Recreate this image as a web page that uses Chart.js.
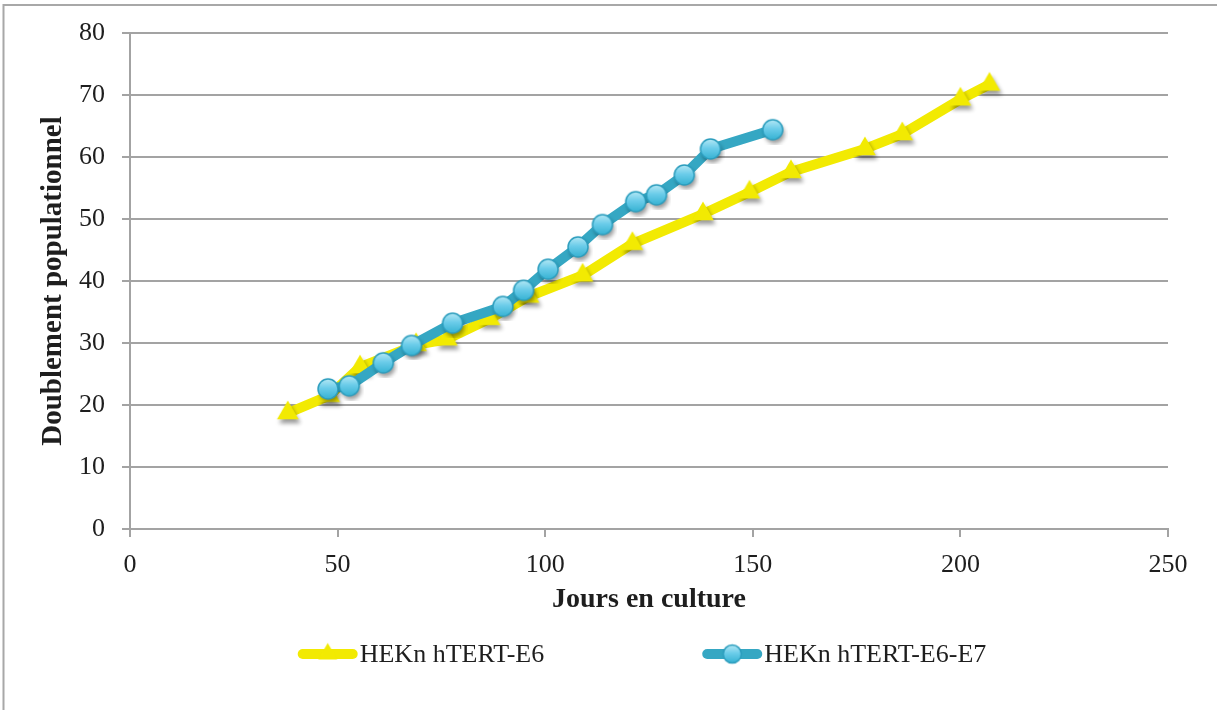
<!DOCTYPE html>
<html>
<head>
<meta charset="utf-8">
<title>Doublement populationnel</title>
<script src="https://cdn.jsdelivr.net/npm/chart.js@4.4.1/dist/chart.umd.min.js"></script>
<style>
  html, body { margin: 0; padding: 0; background: #ffffff; }
  #wrap { position: relative; width: 1217px; height: 710px; }
</style>
</head>
<body>
<div id="wrap"><canvas id="chart" width="1217" height="710"></canvas></div>
<script>
// Series names
const seriesNames = ['HEKn hTERT-E6', 'HEKn hTERT-E6-E7'];

// HEKn hTERT-E6: days in culture / population doublings
const e6Days = [38, 48, 55.4, 68.9, 76.3, 86.6, 96, 109, 121, 138, 149.2, 159.2, 177, 186, 200, 207];
const e6Doublings = [18.7, 21.5, 26.1, 29.7, 30.6, 33.9, 37.5, 40.9, 46, 50.8, 54.3, 57.6, 61.3, 63.7, 69.3, 71.7];

// HEKn hTERT-E6-E7: days in culture / population doublings
const e6e7Days = [47.7, 52.8, 61, 67.8, 77.7, 89.8, 94.8, 100.7, 107.9, 113.8, 121.8, 126.8, 133.5, 139.8, 154.8];
const e6e7Doublings = [22.6, 23.1, 26.8, 29.6, 33.2, 35.9, 38.5, 41.9, 45.5, 49.1, 52.8, 53.9, 57.1, 61.3, 64.4];

// Axis tick labels
const xTickValues = [0, 50, 100, 150, 200, 250];
const yTickValues = [0, 10, 20, 30, 40, 50, 60, 70, 80];

const YELLOW = '#f2ea02';
const TEAL = '#35a7c3';
const GRID = '#a3a3a3';
const INK = '#1e1e1e';
const SERIF = '"Liberation Serif", "DejaVu Serif", serif';

// Marker images: yellow triangle and glossy teal bead, optionally with a soft drop shadow
function triangleMarker(r, shadow) {
  const s = Math.ceil(r * 3);
  const c = document.createElement('canvas');
  c.width = c.height = s;
  const g = c.getContext('2d');
  const cx = s / 2, cy = s / 2;
  if (shadow) {
    g.shadowColor = 'rgba(0,0,0,0.4)';
    g.shadowBlur = 4;
    g.shadowOffsetX = 2;
    g.shadowOffsetY = 4;
  }
  g.beginPath();
  g.moveTo(cx, cy - r);
  g.lineTo(cx + r * Math.sin(2 * Math.PI / 3), cy + r / 2);
  g.lineTo(cx - r * Math.sin(2 * Math.PI / 3), cy + r / 2);
  g.closePath();
  g.fillStyle = YELLOW;
  g.fill();
  return c;
}

function beadMarker(r, shadow) {
  const s = Math.ceil(r * 3);
  const c = document.createElement('canvas');
  c.width = c.height = s;
  const g = c.getContext('2d');
  const cx = s / 2, cy = s / 2;
  if (shadow) {
    g.save();
    g.shadowColor = 'rgba(0,0,0,0.4)';
    g.shadowBlur = 4;
    g.shadowOffsetX = 2;
    g.shadowOffsetY = 4;
    g.beginPath();
    g.arc(cx, cy, r, 0, Math.PI * 2);
    g.fillStyle = '#3ab3d2';
    g.fill();
    g.restore();
  }
  const grad = g.createLinearGradient(0, cy - r, 0, cy + r);
  grad.addColorStop(0, '#b4e8f5');
  grad.addColorStop(0.45, '#6ccdea');
  grad.addColorStop(1, '#36b2d3');
  g.beginPath();
  g.arc(cx, cy, r, 0, Math.PI * 2);
  g.fillStyle = grad;
  g.fill();
  g.lineWidth = 1.5;
  g.strokeStyle = '#2c9dbd';
  g.stroke();
  return c;
}

const triImg = triangleMarker(12.5, true);
const beadImg = beadMarker(10, true);
const triLegend = triangleMarker(11, false);
const beadLegend = beadMarker(9, false);

// Outer frame of the chart object
const framePlugin = {
  id: 'frame',
  beforeDraw(chart) {
    const ctx = chart.ctx;
    ctx.save();
    ctx.fillStyle = '#ffffff';
    ctx.fillRect(0, 0, chart.width, chart.height);
    ctx.strokeStyle = '#a8a8a8';
    ctx.lineWidth = 2;
    ctx.beginPath();
    ctx.moveTo(3.5, chart.height);
    ctx.lineTo(3.5, 5);
    ctx.lineTo(chart.width, 5);
    ctx.stroke();
    ctx.restore();
  }
};

// Legend drawn below the axis title: line swatch with marker, then series name
const legendPlugin = {
  id: 'lineLegend',
  afterDraw(chart) {
    const ctx = chart.ctx;
    const swatch = 60, textGap = 2, itemGap = 158;
    const y = 654;
    ctx.save();
    ctx.font = '26px ' + SERIF;
    ctx.textBaseline = 'middle';
    ctx.textAlign = 'left';
    const items = chart.data.datasets.map((ds, i) => ({
      ds, text: ds.label, w: swatch + textGap + ctx.measureText(ds.label).width,
      marker: i === 0 ? triLegend : beadLegend
    }));
    const total = items.reduce((a, it) => a + it.w, 0) + itemGap * (items.length - 1);
    const ca = chart.chartArea;
    let x = (ca.left + ca.right) / 2 - total / 2 - 7;
    items.forEach(it => {
      ctx.strokeStyle = it.ds.borderColor;
      ctx.lineWidth = 10;
      ctx.lineCap = 'round';
      ctx.beginPath();
      ctx.moveTo(x + 5, y);
      ctx.lineTo(x + swatch - 5, y);
      ctx.stroke();
      ctx.drawImage(it.marker, x + swatch / 2 - it.marker.width / 2, y - it.marker.height / 2);
      ctx.fillStyle = INK;
      ctx.fillText(it.text, x + swatch + textGap, y + 1);
      x += it.w + itemGap;
    });
    ctx.restore();
  }
};

const toPoints = (xs, ys) => xs.map((x, i) => ({ x, y: ys[i] }));

new Chart(document.getElementById('chart'), {
  type: 'line',
  data: {
    datasets: [
      {
        label: seriesNames[0],
        data: toPoints(e6Days, e6Doublings),
        borderColor: YELLOW,
        backgroundColor: YELLOW,
        borderWidth: 10,
        borderCapStyle: 'round',
        borderJoinStyle: 'round',
        pointStyle: triImg,
        pointRadius: 12,
        tension: 0,
        order: 1
      },
      {
        label: seriesNames[1],
        data: toPoints(e6e7Days, e6e7Doublings),
        borderColor: TEAL,
        backgroundColor: TEAL,
        borderWidth: 10,
        borderCapStyle: 'round',
        borderJoinStyle: 'round',
        pointStyle: beadImg,
        pointRadius: 10,
        tension: 0,
        order: 0
      }
    ]
  },
  options: {
    responsive: false,
    animation: false,
    events: [],
    layout: { padding: { left: 0, right: 49, top: 33, bottom: 0 } },
    plugins: {
      legend: { display: false },
      tooltip: { enabled: false }
    },
    scales: {
      x: {
        type: 'linear',
        min: 0,
        max: 250,
        afterBuildTicks(scale) { scale.ticks = xTickValues.map(v => ({ value: v })); },
        afterFit(scale) { scale.height = 181; },
        grid: { drawOnChartArea: false, drawTicks: true, tickLength: 8, color: GRID, lineWidth: 2 },
        border: { display: true, color: GRID, width: 2 },
        ticks: { color: INK, font: { family: SERIF, size: 26 }, padding: 13, maxRotation: 0 },
        title: {
          display: true,
          text: 'Jours en culture',
          color: INK,
          font: { family: SERIF, size: 28, weight: 'bold' },
          padding: { top: 0, bottom: 93 }
        }
      },
      y: {
        type: 'linear',
        min: 0,
        max: 80,
        afterBuildTicks(scale) { scale.ticks = yTickValues.map(v => ({ value: v })); },
        afterFit(scale) { scale.width = 130; },
        grid: { drawOnChartArea: true, drawTicks: true, tickLength: 8, color: GRID, lineWidth: 2 },
        border: { display: true, color: GRID, width: 2 },
        ticks: { color: INK, font: { family: SERIF, size: 26 }, padding: 17 },
        title: {
          display: true,
          text: 'Doublement populationnel',
          color: INK,
          font: { family: SERIF, size: 29, weight: 'bold' },
          padding: { top: 36, bottom: 0 }
        }
      }
    }
  },
  plugins: [framePlugin, legendPlugin]
});
</script>
</body>
</html>
